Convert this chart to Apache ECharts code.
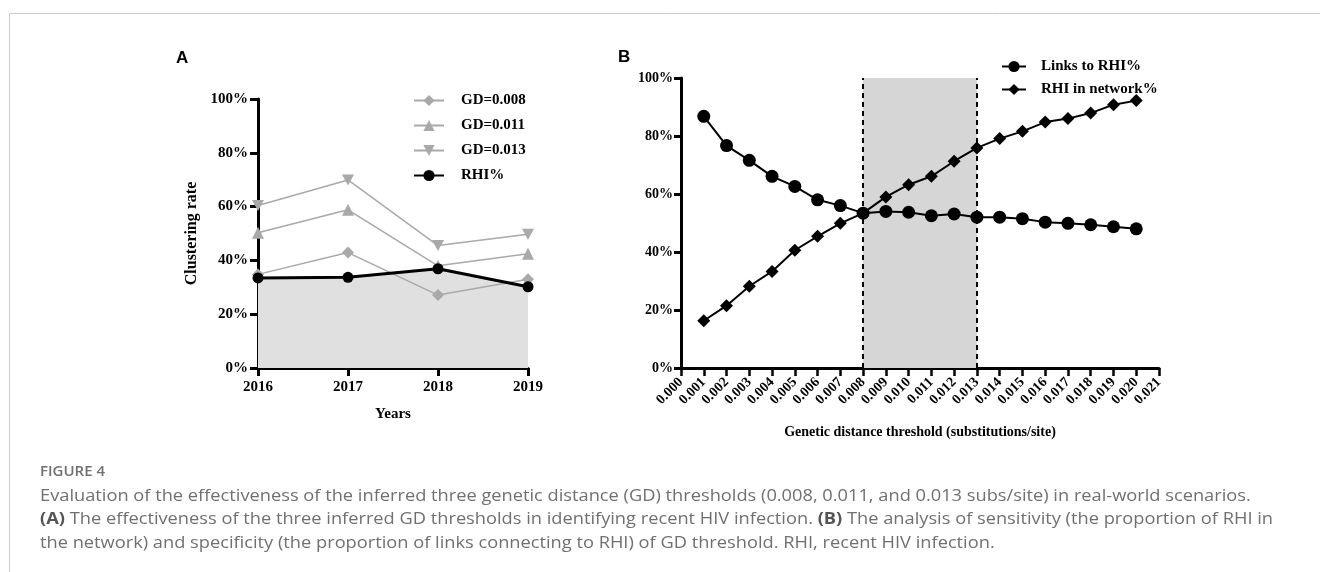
<!DOCTYPE html>
<html>
<head>
<meta charset="utf-8">
<script src="https://cdn.jsdelivr.net/npm/echarts@6/dist/echarts.min.js"></script>
<style>
html,body{margin:0;padding:0;background:#fff;}
#c{width:1320px;height:572px;}
</style>
</head>
<body>
<div id="c"></div>
<script>
// ---- Panel A data ----
const yearsA = ['2016', '2017', '2018', '2019'];
const gd008 = [34.8, 42.9, 27.1, 33.0];
const gd011 = [50.3, 58.8, 38.0, 42.5];
const gd013 = [60.4, 69.9, 45.5, 49.7];
const rhiPct = [33.5, 33.7, 36.9, 30.2];
const yTicksA = [0, 20, 40, 60, 80, 100];

// ---- Panel B data ----
const thresholdTicks = ['0.000','0.001','0.002','0.003','0.004','0.005','0.006','0.007','0.008','0.009','0.010',
  '0.011','0.012','0.013','0.014','0.015','0.016','0.017','0.018','0.019','0.020','0.021'];
const thresholds = ['0.001','0.002','0.003','0.004','0.005','0.006','0.007','0.008','0.009','0.010',
  '0.011','0.012','0.013','0.014','0.015','0.016','0.017','0.018','0.019','0.020'];
const linksToRHI = [86.8, 76.7, 71.6, 66.1, 62.6, 58.0, 56.0, 53.4, 54.0, 53.7,
  52.5, 53.1, 52.0, 52.0, 51.5, 50.3, 49.9, 49.4, 48.7, 48.0];
const rhiInNetwork = [16.3, 21.5, 28.2, 33.3, 40.6, 45.4, 49.9, 53.4, 59.0, 63.2,
  66.1, 71.3, 75.9, 79.1, 81.6, 84.8, 86.0, 87.9, 90.8, 92.2];
const shadeRange = ['0.008', '0.013'];

const serif = '"Liberation Serif", "Times New Roman", serif';
const capFont = '"Open Sans", "Noto Sans", sans-serif';
const grayS = '#a9a9a9';
const capColor = '#707070';
const invTri = 'path://M0,0 L10,0 L5,9 Z';

const chart = echarts.init(document.getElementById('c'), null, {renderer: 'canvas'});

const axisLineStyle = {color: '#000', width: 3};
const labelStyle = {color: '#000', fontFamily: serif, fontWeight: 'bold', fontSize: 15};

const option = {
  animation: false,
  backgroundColor: '#fff',
  grid: [
    {left: 258, top: 99, width: 270, height: 269, containLabel: false},
    {left: 681, top: 78, width: 478, height: 290, containLabel: false}
  ],
  xAxis: [
    {
      gridIndex: 0, type: 'category', data: yearsA, boundaryGap: false,
      name: 'Years', nameLocation: 'middle', nameGap: 39,
      nameTextStyle: {color: '#000', fontFamily: serif, fontWeight: 'bold', fontSize: 15},
      axisLine: {lineStyle: axisLineStyle},
      axisTick: {show: true, length: 8, lineStyle: {color: '#000', width: 3}},
      axisLabel: Object.assign({margin: 12, interval: 0}, labelStyle),
      splitLine: {show: false}
    },
    {
      gridIndex: 1, type: 'category', data: thresholdTicks, boundaryGap: false,
      name: 'Genetic distance threshold (substitutions/site)', nameLocation: 'middle', nameGap: 57,
      nameTextStyle: {color: '#000', fontFamily: serif, fontWeight: 'bold', fontSize: 14},
      axisLine: {lineStyle: axisLineStyle},
      axisTick: {show: true, length: 8, interval: 0, lineStyle: {color: '#000', width: 2.5}},
      axisLabel: Object.assign({margin: 12, interval: 0, rotate: 45}, labelStyle, {fontSize: 14}),
      splitLine: {show: false}
    }
  ],
  yAxis: [
    {
      gridIndex: 0, type: 'value', min: 0, max: 100, interval: 20,
      name: 'Clustering rate', nameLocation: 'middle', nameGap: 58,
      nameTextStyle: {color: '#000', fontFamily: serif, fontWeight: 'bold', fontSize: 16},
      axisLine: {show: true, lineStyle: axisLineStyle},
      axisTick: {show: true, length: 8, lineStyle: {color: '#000', width: 3}},
      axisLabel: Object.assign({margin: 10, formatter: '{value}%'}, labelStyle),
      splitLine: {show: false}
    },
    {
      gridIndex: 1, type: 'value', min: 0, max: 100, interval: 20,
      axisLine: {show: true, lineStyle: axisLineStyle},
      axisTick: {show: true, length: 7, lineStyle: {color: '#000', width: 3}},
      axisLabel: Object.assign({margin: 8, formatter: '{value}%'}, labelStyle, {fontSize: 14}),
      splitLine: {show: false}
    }
  ],
  legend: [
    {
      left: 408, top: 88, orient: 'vertical', itemGap: 10, itemWidth: 30, itemHeight: 14,
      data: ['GD=0.008', 'GD=0.011', 'GD=0.013', 'RHI%'],
      textStyle: {color: '#000', fontFamily: serif, fontWeight: 'bold', fontSize: 15, padding: [0, 0, 0, 12]}
    },
    {
      left: 996, top: 54, orient: 'vertical', itemGap: 8, itemWidth: 24, itemHeight: 14,
      data: ['Links to RHI%', 'RHI in network%'],
      textStyle: {color: '#000', fontFamily: serif, fontWeight: 'bold', fontSize: 15, padding: [0, 0, 0, 10]}
    }
  ],
  series: [
    {
      name: 'RHI area', type: 'line', xAxisIndex: 0, yAxisIndex: 0, data: rhiPct,
      symbol: 'none', lineStyle: {width: 0}, areaStyle: {color: '#e0e0e0', opacity: 1}, z: 1, silent: true
    },
    {
      name: 'GD=0.008', type: 'line', xAxisIndex: 0, yAxisIndex: 0, data: gd008,
      symbol: 'diamond', symbolSize: 12, itemStyle: {color: grayS}, lineStyle: {color: grayS, width: 1.5}, z: 3
    },
    {
      name: 'GD=0.011', type: 'line', xAxisIndex: 0, yAxisIndex: 0, data: gd011,
      symbol: 'triangle', symbolSize: 12, itemStyle: {color: grayS}, lineStyle: {color: grayS, width: 1.5}, z: 3
    },
    {
      name: 'GD=0.013', type: 'line', xAxisIndex: 0, yAxisIndex: 0, data: gd013,
      symbol: invTri, symbolSize: [12, 11], itemStyle: {color: grayS}, lineStyle: {color: grayS, width: 1.5}, z: 3
    },
    {
      name: 'RHI%', type: 'line', xAxisIndex: 0, yAxisIndex: 0, data: rhiPct,
      symbol: 'circle', symbolSize: 11, itemStyle: {color: '#000'}, lineStyle: {color: '#000', width: 3}, z: 4
    },
    {
      name: 'Links to RHI%', type: 'line', xAxisIndex: 1, yAxisIndex: 1,
      data: thresholds.map((t, i) => [t, linksToRHI[i]]),
      symbol: 'circle', symbolSize: 13, itemStyle: {color: '#000'}, lineStyle: {color: '#000', width: 2}, z: 4,
      markArea: {
        silent: true, itemStyle: {color: '#d6d6d6'},
        data: [[{xAxis: shadeRange[0]}, {xAxis: shadeRange[1]}]]
      },
      markLine: {
        silent: true, symbol: 'none', label: {show: false},
        lineStyle: {color: '#000', type: [5, 4], width: 2},
        data: [{xAxis: shadeRange[0]}, {xAxis: shadeRange[1]}]
      }
    },
    {
      name: 'RHI in network%', type: 'line', xAxisIndex: 1, yAxisIndex: 1,
      data: thresholds.map((t, i) => [t, rhiInNetwork[i]]),
      symbol: 'diamond', symbolSize: 13, itemStyle: {color: '#000'}, lineStyle: {color: '#000', width: 2}, z: 4
    }
  ],
  graphic: [
    {type: 'line', shape: {x1: 9.5, y1: 13.5, x2: 1320, y2: 13.5}, style: {stroke: '#cccccc', lineWidth: 1}},
    {type: 'line', shape: {x1: 9.5, y1: 13.5, x2: 9.5, y2: 572}, style: {stroke: '#cccccc', lineWidth: 1}},
    {type: 'text', left: 176, top: 50, style: {text: 'A', font: 'bold 17px "Liberation Sans", Arial, sans-serif', fill: '#000'}},
    {type: 'text', left: 618, top: 49, style: {text: 'B', font: 'bold 17px "Liberation Sans", Arial, sans-serif', fill: '#000'}},
    {type: 'text', left: 40, top: 464, style: {text: 'FIGURE 4', font: '600 15px ' + capFont, fill: capColor}},
    {type: 'text', x: 40, y: 488, scaleX: 1.14, style: {
      text: 'Evaluation of the effectiveness of the inferred three genetic distance (GD) thresholds (0.008, 0.011, and 0.013 subs/site) in real-world scenarios.',
      font: '16px ' + capFont, fill: capColor}},
    {type: 'text', x: 40, y: 511, scaleX: 1.14, style: {
      text: '{b|(A)} The effectiveness of the three inferred GD thresholds in identifying recent HIV infection. {b|(B)} The analysis of sensitivity (the proportion of RHI in',
      font: '16px ' + capFont, fill: capColor,
      rich: {b: {fontFamily: capFont, fontSize: 16, fontWeight: 'bold', fill: '#555'}}}},
    {type: 'text', x: 40, y: 535, scaleX: 1.14, style: {
      text: 'the network) and specificity (the proportion of links connecting to RHI) of GD threshold. RHI, recent HIV infection.',
      font: '16px ' + capFont, fill: capColor}}
  ]
};
chart.setOption(option);
</script>
</body>
</html>
